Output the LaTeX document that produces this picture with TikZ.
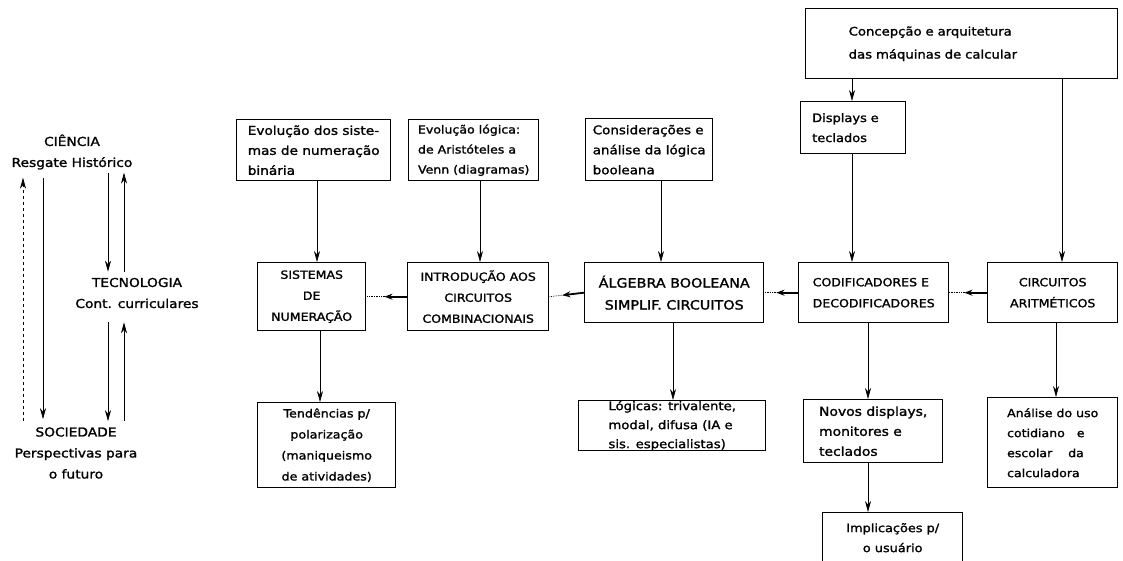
\documentclass[tikz,border=0pt]{standalone}
\usepackage{fontspec}
\setmainfont{DejaVu Sans}[FakeStretch=1.12,FakeBold=1.5]
\usetikzlibrary{arrows.meta,calc}
\newcommand{\fs}[2]{\fontsize{#1}{#2}\selectfont}
\begin{document}
\begin{tikzpicture}[x=1pt,y=-1pt,
  box/.style={draw, line width=1.4pt, anchor=north west, inner sep=0pt, align=left, font=\fs{11.5}{20}},
  capbox/.style={box, align=center, font=\fs{11.2}{21}},
  lbl/.style={inner sep=0pt, align=center, font=\fs{12.3}{21}},
  conn/.style={line width=0.6pt, -{Stealth[length=11pt,width=6pt]}},
  dots/.style={line width=0.7pt, densely dotted},
  hthick/.style={line width=1.8pt, -{Stealth[length=8pt,width=6pt]}}
]
\useasboundingbox (0,0) rectangle (1123,561);

% ---- legend ----
\node[lbl] (cien) at (72,152) {CIÊNCIA\\Resgate Histórico};
\node[lbl] (tec) at (137,293) {TECNOLOGIA\\Cont. curriculares};
\node[lbl] (soc) at (76,453) {SOCIEDADE\\Perspectivas para\\o futuro};

\draw[conn, dashed, shorten <=6pt, shorten >=8pt] (soc.north -| 23,0) -- (cien.south -| 23,0);
\draw[conn, shorten <=8pt, shorten >=8pt] (cien.south -| 43,0) -- (soc.north -| 43,0);
\draw[conn, shorten <=3pt, shorten >=6pt] (cien.south -| 108,0) -- (tec.north -| 108,0);
\draw[conn, shorten <=6pt, shorten >=3pt] (tec.north -| 124,0) -- (cien.south -| 124,0);
\draw[conn, shorten <=14pt, shorten >=6pt] (tec.south -| 108,0) -- (soc.north -| 108,0);
\draw[conn, shorten <=6pt, shorten >=14pt] (soc.north -| 124,0) -- (tec.south -| 124,0);

% ---- top boxes ----
\node[box, minimum width=154pt, minimum height=61pt, font=\fs{12.2}{20}] (t1) at (236,119)
  {Evolução dos siste-\\mas de numeração\\binária};
\node[box, minimum width=130pt, minimum height=61pt, font=\fs{11.2}{20}] (t2) at (408,119)
  {Evolução lógica:\\de Aristóteles a\\Venn (diagramas)};
\node[box, minimum width=127pt, minimum height=62pt, font=\fs{12}{20}] (t3) at (585,118)
  {Considerações e\\análise da lógica\\booleana};
\node[box, minimum width=312pt, minimum height=70pt, text width=226pt, font=\fs{11.8}{23}] (t4) at (805,8)
  {Concepção e arquitetura\\das máquinas de calcular};
\node[box, minimum width=105pt, minimum height=52pt, text width=82pt, font=\fs{11.6}{20}] (t5) at (800,101)
  {Displays e\\teclados};

% ---- middle row ----
\node[capbox, minimum width=108pt, minimum height=68pt] (sist) at (257,262)
  {SISTEMAS\\DE\\NUMERAÇÃO};
\node[capbox, minimum width=141pt, minimum height=68pt] (intro) at (407,262)
  {INTRODUÇÃO AOS\\CIRCUITOS\\COMBINACIONAIS};
\node[capbox, minimum width=179pt, minimum height=60pt, font=\fs{12.8}{22}] (alg) at (584,262)
  {ÁLGEBRA BOOLEANA\\SIMPLIF. CIRCUITOS};
\node[box, minimum width=150pt, minimum height=60pt, font=\fs{11.2}{21}] (cod) at (798,262)
  {CODIFICADORES E\\DECODIFICADORES};
\node[capbox, minimum width=130pt, minimum height=60pt] (arit) at (987,262)
  {CIRCUITOS\\ARITMÉTICOS};

% ---- bottom boxes ----
\node[box, align=center, minimum width=138pt, minimum height=85pt, font=\fs{11.3}{21}] (tend) at (257,402)
  {Tendências p/\\polarização\\(maniqueismo\\de atividades)};
\node[box, minimum width=187pt, minimum height=39pt, font=\fs{11.8}{19}] (log) at (578,400)
  {Lógicas: trivalente,\\modal, difusa (IA e\\sis. especialistas)};
\node[box, minimum width=139pt, minimum height=63pt, font=\fs{12.4}{20}] (novos) at (803,399)
  {Novos displays,\\monitores e\\teclados};
\node[box, minimum width=130pt, minimum height=90pt, font=\fs{11.2}{20}] (anal) at (987,397)
  {Análise do uso\\cotidiano \ \ e\\escolar \ \ \ da\\calculadora};
\node[box, align=center, minimum width=140pt, minimum height=50pt, font=\fs{11.5}{20}] (impl) at (822,512)
  {Implicações p/\\o usuário};

% ---- vertical connectors ----
\draw[conn] (t1.south -| 317,0) -- (sist.north -| 317,0);
\draw[conn] (t2.south -| 480,0) -- (intro.north -| 480,0);
\draw[conn] (t3.south -| 661,0) -- (alg.north -| 661,0);
\draw[conn] (t4.south -| 852,0) -- (t5.north -| 852,0);
\draw[conn] (t5.south -| 852,0) -- (cod.north -| 852,0);
\draw[conn] (t4.south -| 1062,0) -- (arit.north -| 1062,0);
\draw[conn] (sist.south -| 320,0) -- (tend.north -| 320,0);
\draw[conn] (alg.south -| 673,0) -- (log.north -| 673,0);
\draw[conn] (cod.south -| 868,0) -- (novos.north -| 868,0);
\draw[conn] (novos.south -| 868,0) -- (impl.north -| 868,0);
\draw[conn] (arit.south -| 1056,0) -- (anal.north -| 1056,0);

% ---- horizontal connectors ----
\draw[dots] (intro.west) -- (sist.east);
\draw[hthick, shorten >=18pt] (intro.west) -- (sist.east);
\draw[dots] (alg.west) -- (intro.east);
\draw[hthick, shorten >=13pt] (alg.west) -- (intro.east);
\draw[dots] (cod.west) -- (alg.east);
\draw[hthick, shorten >=12pt] (cod.west) -- (alg.east);
\draw[dots] (arit.west) -- (cod.east);
\draw[hthick, shorten >=15pt] (arit.west) -- (cod.east);
\end{tikzpicture}
\end{document}
